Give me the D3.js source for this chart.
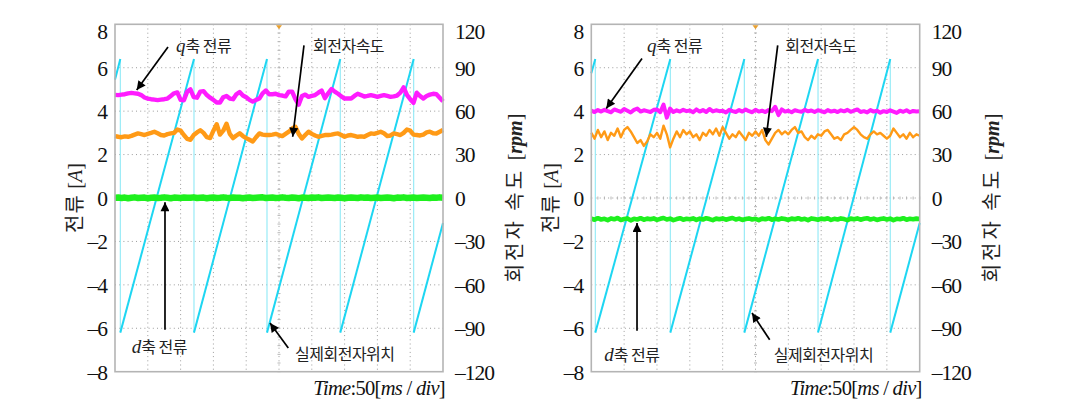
<!DOCTYPE html>
<html><head><meta charset="utf-8">
<script src="https://cdn.jsdelivr.net/npm/d3@7"></script>
<style>body{margin:0;background:#fff} svg{display:block;background:#fff}</style>
</head><body><svg id="c" width="1067" height="410"></svg>
<script>
// ---------- data ----------
const sampleStepMs = 5;               // samples every 5 ms, 0..500 ms (10 div x 50 ms)
const timeDomain = [0, 500];
const timeDivisions = 10;
const currentTicks = [-8, -6, -4, -2, 0, 2, 4, 6, 8];
const speedTicks = [-120, -90, -60, -30, 0, 30, 60, 90, 120];

// Panel A (left)
const qCurrentA = [
 4.75,4.74,4.76,4.78,4.82,4.84,4.82,4.80,4.74,4.63,
 4.58,4.55,4.53,4.51,4.53,4.55,4.58,4.70,4.82,4.86,
 4.52,4.50,4.90,5.00,4.65,4.62,4.90,4.92,4.74,4.62,
 4.52,4.40,4.40,4.64,4.70,4.58,4.55,4.78,4.88,4.72,
 4.64,4.52,4.44,4.52,4.58,4.82,4.95,4.78,4.78,4.80,
 4.74,4.72,4.68,4.90,4.90,4.55,4.30,4.70,4.76,4.66,
 4.70,4.74,4.85,4.95,4.60,4.82,5.02,4.90,4.80,4.68,
 4.58,4.58,4.58,4.70,4.80,4.74,4.67,4.70,4.74,4.70,
 4.66,4.70,4.74,4.70,4.66,4.68,4.72,4.85,5.10,4.75,
 4.55,4.38,4.85,4.70,4.58,4.70,4.76,4.80,4.78,4.62,
 4.45];
const speedA = [
 42.8,42.3,42.0,42.6,42.3,42.9,43.8,44.6,44.1,43.5,
 44.3,45.0,45.8,44.7,43.5,43.2,44.1,44.6,45.0,47.3,
 46.5,43.5,40.8,40.2,43.5,45.3,46.8,45.0,42.0,41.4,
 46.5,51.0,43.8,46.5,51.3,44.3,41.4,43.2,44.7,42.8,
 41.4,40.2,39.0,42.0,44.6,43.8,43.5,43.5,43.8,44.3,
 43.5,42.8,44.3,45.8,48.0,49.2,44.3,41.1,43.5,45.8,
 44.3,43.2,42.3,42.9,43.5,43.5,43.8,44.3,44.6,43.5,
 42.3,43.2,43.5,42.9,42.3,42.6,42.3,43.5,44.6,44.3,
 45.0,45.8,44.7,42.8,43.2,44.6,44.1,43.5,45.0,47.3,
 46.5,43.8,43.5,43.2,43.8,45.3,45.8,44.7,44.6,45.8,
 47.0];
const dCurrentA = [
 0.01,0.02,0.00,0.02,-0.01,0.01,0.03,0.00,0.01,0.02,
 -0.01,0.01,0.02,0.00,0.01,0.03,0.01,-0.01,0.02,0.01,
 0.00,0.02,0.01,0.01,0.03,0.00,0.01,0.02,-0.01,0.01,
 0.02,0.00,0.01,0.03,0.01,0.00,0.02,0.01,0.01,-0.01,
 0.01,0.02,0.00,0.01,0.02,0.03,0.00,0.01,0.02,0.00,
 0.01,0.03,0.01,0.00,0.02,0.01,-0.01,0.02,0.01,0.00,
 0.02,0.01,0.03,0.00,0.01,0.02,0.01,0.00,0.02,0.01,
 -0.01,0.01,0.02,0.01,0.00,0.03,0.01,0.02,0.00,0.01,
 0.02,0.00,0.01,0.02,0.01,-0.01,0.02,0.01,0.03,0.00,
 0.01,0.02,0.00,0.01,0.02,0.01,0.00,0.02,0.01,0.03,
 0.01];
const posResetsA = [8.1, 120.4, 231.7, 343.4, 455.3];   // ms
const posStartA = 5.45, posEndA = -1.15;

// Panel B (right)
const qCurrentB = [
 4.02,3.96,4.05,3.98,4.06,4.00,3.95,4.08,4.02,3.97,
 4.10,4.02,3.94,4.06,4.12,3.98,4.04,4.00,3.96,4.06,
 4.08,3.95,4.30,3.70,4.12,3.96,4.04,3.98,4.06,4.00,
 4.03,3.95,4.08,3.98,4.05,3.96,4.10,3.99,4.04,4.00,
 4.02,3.94,4.06,4.00,3.96,4.05,3.98,4.08,4.00,3.95,
 4.06,3.98,4.02,3.96,4.05,4.00,4.20,3.82,4.08,3.98,
 4.02,3.95,4.04,4.00,3.97,4.06,3.99,4.03,3.96,4.04,
 4.00,3.95,4.05,3.98,4.02,3.96,4.04,3.99,4.06,3.97,
 4.02,4.08,3.96,4.00,3.94,4.05,3.98,4.02,3.93,4.00,
 3.96,4.04,3.98,3.92,4.02,3.97,4.04,3.95,4.01,3.98,
 4.00];
const speedB = [
 45,41,47,42,46,40,45,43,48,42,
 47,49,46,42,38,40,36,39,44,42,
 45,41,50,44,35,41,46,42,47,44,
 46,42,44,40,45,43,47,44,48,43,
 49,45,41,44,42,46,43,40,45,43,
 46,43,47,40,37,41,45,47,44,46,
 44,47,49,45,46,42,40,43,41,44,
 43,46,47,44,41,42,40,44,45,47,
 49,47,44,42,41,44,46,44,45,43,
 41,43,48,45,42,44,41,45,42,44,
 43];
const dCurrentB = [
 -0.95,-1.00,-0.93,-0.99,-0.96,-1.02,-0.94,-0.98,-0.92,-1.01,
 -0.97,-0.94,-1.03,-0.96,-0.99,-0.93,-1.00,-0.95,-0.98,-0.94,
 -1.01,-0.96,-0.92,-0.99,-0.95,-1.02,-0.97,-0.93,-1.00,-0.96,
 -0.98,-0.94,-1.01,-0.95,-0.99,-0.93,-0.97,-1.02,-0.95,-0.98,
 -0.94,-1.00,-0.96,-0.92,-0.99,-0.95,-1.01,-0.97,-0.94,-0.99,
 -0.96,-1.02,-0.95,-0.98,-0.93,-1.00,-0.96,-0.99,-0.94,-0.97,
 -1.01,-0.95,-0.98,-0.93,-0.99,-0.96,-1.02,-0.94,-0.97,-1.00,
 -0.95,-0.98,-0.93,-1.01,-0.96,-0.99,-0.94,-0.97,-1.02,-0.95,
 -0.98,-0.94,-1.00,-0.96,-0.93,-0.99,-0.95,-1.01,-0.97,-0.94,
 -0.99,-0.95,-1.02,-0.96,-0.98,-0.93,-1.00,-0.96,-0.98,-0.95,
 -0.97];
const posResetsB = [6.1, 120.3, 233.0, 345.2, 455.2];
const posStartB = 5.75, posEndB = -1.15;

const posMin = -6.2, posMax = 6.4;   // rotor position trace limits (current-axis units)

// ---------- drawing ----------
const svg = d3.select('#c');
const plotTop = 24.3, plotBottom = 371.7;
const colors = {q:'#ff1cff', speed:'#ff9a16', d:'#1ef01e', pos:'#1ed6f2', reset:'#8fe9f6'};
const serif = "'Liberation Serif','DejaVu Serif',serif";
const kor = "'Noto Sans CJK KR','Noto Sans',sans-serif";

const panels = [
 {left:115, right:443, q:qCurrentA, speed:speedA, d:dCurrentA, resets:posResetsA, ps:posStartA, pe:posEndA,
  dWidth:6.5, qWidth:4.4, sWidth:4.4,
  ann:{q:[93,6.71], qArr:[[80.8,6.96],[33.1,4.97]], s:[301.8,6.71], sArr:[[288.1,7.03],[270.9,2.82]],
       d:[25.5,-7.13], dArr:[[76.2,-6.07],[76.2,-0.2]], p:[274.4,-7.45], pArr:[[264.2,-6.91],[236.3,-5.76]]}},
 {left:591.3, right:919.7, q:qCurrentB, speed:speedB, d:dCurrentB, resets:posResetsB, ps:posStartB, pe:posEndB,
  dWidth:4.6, qWidth:4.0, sWidth:2.4,
  ann:{q:[84.8,6.71], qArr:[[77.2,6.42],[22.8,4.12]], s:[295.4,6.71], sArr:[[283.8,7.03],[266.4,2.82]],
       d:[19.8,-7.5], dArr:[[69.6,-6.11],[69.6,-1.15]], p:[277.7,-7.53], pArr:[[271.6,-6.53],[244.7,-5.3]]}}
];

svg.append('defs').append('marker').attr('id','ah').attr('viewBox','0 0 10 10')
 .attr('refX',10).attr('refY',5).attr('markerWidth',12).attr('markerHeight',9)
 .attr('markerUnits','userSpaceOnUse').attr('orient','auto')
 .append('path').attr('d','M0,0 L10,5 L0,10 z').attr('fill','#000');

const fmt = v => (v < 0 ? '\u2013' + Math.abs(v) : '' + v);

panels.forEach(P => {
  const x = d3.scaleLinear().domain(timeDomain).range([P.left, P.right]);
  const yI = d3.scaleLinear().domain([-8, 8]).range([plotBottom, plotTop]);
  const yS = d3.scaleLinear().domain([-120, 120]).range([plotBottom, plotTop]);
  const g = svg.append('g');
  const times = P.q.map((_, i) => i * sampleStepMs);

  // grid
  const divs = d3.range(1, timeDivisions).map(i => timeDomain[0] + i * (timeDomain[1]-timeDomain[0]) / timeDivisions);
  g.selectAll('.vg').data(divs).join('line')
   .attr('x1', d => x(d)).attr('x2', d => x(d)).attr('y1', plotTop).attr('y2', plotBottom)
   .attr('stroke', '#9c9c9c').attr('stroke-width', 1).attr('stroke-dasharray', '1,3.2');
  g.selectAll('.hg').data(currentTicks.slice(1, -1)).join('line')
   .attr('x1', P.left).attr('x2', P.right).attr('y1', d => yI(d)).attr('y2', d => yI(d))
   .attr('stroke', '#9c9c9c').attr('stroke-width', 1).attr('stroke-dasharray', '1,3.2');
  // center minor ticks
  const mid = (timeDomain[0] + timeDomain[1]) / 2;
  const yMinor = d3.range(-8, 8.01, 0.4);
  g.selectAll('.ym').data(yMinor).join('line')
   .attr('x1', x(mid) - 1.5).attr('x2', x(mid) + 1.5).attr('y1', d => yI(d)).attr('y2', d => yI(d))
   .attr('stroke', '#b5b5b5').attr('stroke-width', 1);
  const xMinor = d3.range(timeDomain[0], timeDomain[1] + 0.01, 10);
  g.selectAll('.xm').data(xMinor).join('line')
   .attr('x1', d => x(d)).attr('x2', d => x(d)).attr('y1', yI(0) - 1.5).attr('y2', yI(0) + 1.5)
   .attr('stroke', '#b5b5b5').attr('stroke-width', 1);

  // rotor position sawtooth
  const ramps = [];
  ramps.push([[timeDomain[0], P.ps], [P.resets[0], posMax]]);
  P.resets.forEach((r, i) => {
    const next = i + 1 < P.resets.length ? [P.resets[i+1], posMax] : [timeDomain[1], P.pe];
    ramps.push([[r, posMin], next]);
  });
  g.selectAll('.rs').data(P.resets).join('line')
   .attr('x1', d => x(d)).attr('x2', d => x(d)).attr('y1', yI(posMax)).attr('y2', yI(posMin))
   .attr('stroke', colors.reset).attr('stroke-width', 1.1);
  g.selectAll('.rp').data(ramps).join('line')
   .attr('x1', d => x(d[0][0])).attr('y1', d => yI(d[0][1]))
   .attr('x2', d => x(d[1][0])).attr('y2', d => yI(d[1][1]))
   .attr('stroke', colors.pos).attr('stroke-width', 2);

  const lineI = d3.line().x((d, i) => x(times[i])).y(d => yI(d));
  const lineS = d3.line().x((d, i) => x(times[i])).y(d => yS(d));
  g.append('path').attr('d', lineI(P.q)).attr('fill', 'none').attr('stroke', colors.q)
   .attr('stroke-width', P.qWidth).attr('stroke-linejoin', 'round');
  g.append('path').attr('d', lineS(P.speed)).attr('fill', 'none').attr('stroke', colors.speed)
   .attr('stroke-width', P.sWidth).attr('stroke-linejoin', 'round');
  g.append('path').attr('d', lineI(P.d)).attr('fill', 'none').attr('stroke', colors.d)
   .attr('stroke-width', P.dWidth).attr('stroke-linejoin', 'round');

  // frame
  g.append('rect').attr('x', P.left).attr('y', plotTop).attr('width', P.right - P.left).attr('height', plotBottom - plotTop)
   .attr('fill', 'none').attr('stroke', '#b4b4b4').attr('stroke-width', 1.6);
  // trigger marker
  g.append('path').attr('d', `M${x(mid)-3},${plotTop+1} L${x(mid)+3},${plotTop+1} L${x(mid)},${plotTop+5} z`).attr('fill', '#e8a030');

  // axes
  const axL = d3.axisLeft(yI).tickValues(currentTicks).tickFormat(fmt).tickSize(0).tickPadding(8);
  const axR = d3.axisRight(yS).tickValues(speedTicks).tickFormat(fmt).tickSize(0).tickPadding(12);
  [g.append('g').attr('transform', `translate(${P.left},0)`).call(axL),
   g.append('g').attr('transform', `translate(${P.right},0)`).call(axR)].forEach(a => {
     a.select('.domain').remove();
     a.selectAll('text').attr('font-family', serif).attr('font-size', 21.5).attr('fill', '#111')
      .attr('letter-spacing', -1).attr('dy', '0.34em');
  });
  g.selectAll('.tick text').filter(d => d === 8 || d === 120).attr('dy', '0.68em');

  // axis titles
  const lt = g.append('text').attr('transform', `translate(${P.left - 40},198) rotate(-90)`)
   .attr('text-anchor', 'middle').attr('font-size', 20).attr('fill', '#222').attr('dy', '0.35em');
  lt.append('tspan').attr('font-family', kor).attr('letter-spacing', 1).text('전류 ');
  lt.append('tspan').attr('font-family', serif).text('[');
  lt.append('tspan').attr('font-family', serif).attr('font-style', 'italic').text('A');
  lt.append('tspan').attr('font-family', serif).text(']');
  const rt = g.append('text').attr('transform', `translate(${P.right + 72},198) rotate(-90)`)
   .attr('text-anchor', 'middle').attr('font-size', 20).attr('fill', '#222').attr('dy', '0.35em');
  rt.append('tspan').attr('font-family', kor).attr('letter-spacing', 3).text('회전자 속도 ');
  rt.append('tspan').attr('font-family', serif).text('[');
  rt.append('tspan').attr('font-family', serif).attr('font-style', 'italic').attr('font-weight', 'bold').text('rpm');
  rt.append('tspan').attr('font-family', serif).text(']');

  // time label
  const tl = g.append('text').attr('x', P.right + 2).attr('y', 395).attr('text-anchor', 'end')
   .attr('font-family', serif).attr('font-size', 20.5).attr('fill', '#111').attr('letter-spacing', -0.7);
  tl.append('tspan').attr('font-style', 'italic').text('Time');
  tl.append('tspan').text(':50[');
  tl.append('tspan').attr('font-style', 'italic').text('ms');
  tl.append('tspan').text(' / ');
  tl.append('tspan').attr('font-style', 'italic').text('div');
  tl.append('tspan').text(']');

  // annotations
  const A = P.ann;
  const arrow = pts => g.append('line')
   .attr('x1', x(pts[0][0])).attr('y1', yI(pts[0][1])).attr('x2', x(pts[1][0])).attr('y2', yI(pts[1][1]))
   .attr('stroke', '#000').attr('stroke-width', 1.7).attr('marker-end', 'url(#ah)');
  [A.qArr, A.sArr, A.dArr, A.pArr].forEach(arrow);
  const lab = (pos, italicLetter, rest) => {
    const t = g.append('text').attr('x', x(pos[0])).attr('y', yI(pos[1])).attr('fill', '#222');
    if (italicLetter) t.append('tspan').attr('font-family', serif).attr('font-style', 'italic').attr('font-size', 19).text(italicLetter);
    t.append('tspan').attr('font-family', kor).attr('font-size', 16).attr('letter-spacing', -0.5).text(rest);
  };
  lab(A.q, 'q', '축 전류');
  lab(A.s, null, '회전자속도');
  lab(A.d, 'd', '축 전류');
  lab(A.p, null, '실제회전자위치');
});
</script></body></html>
